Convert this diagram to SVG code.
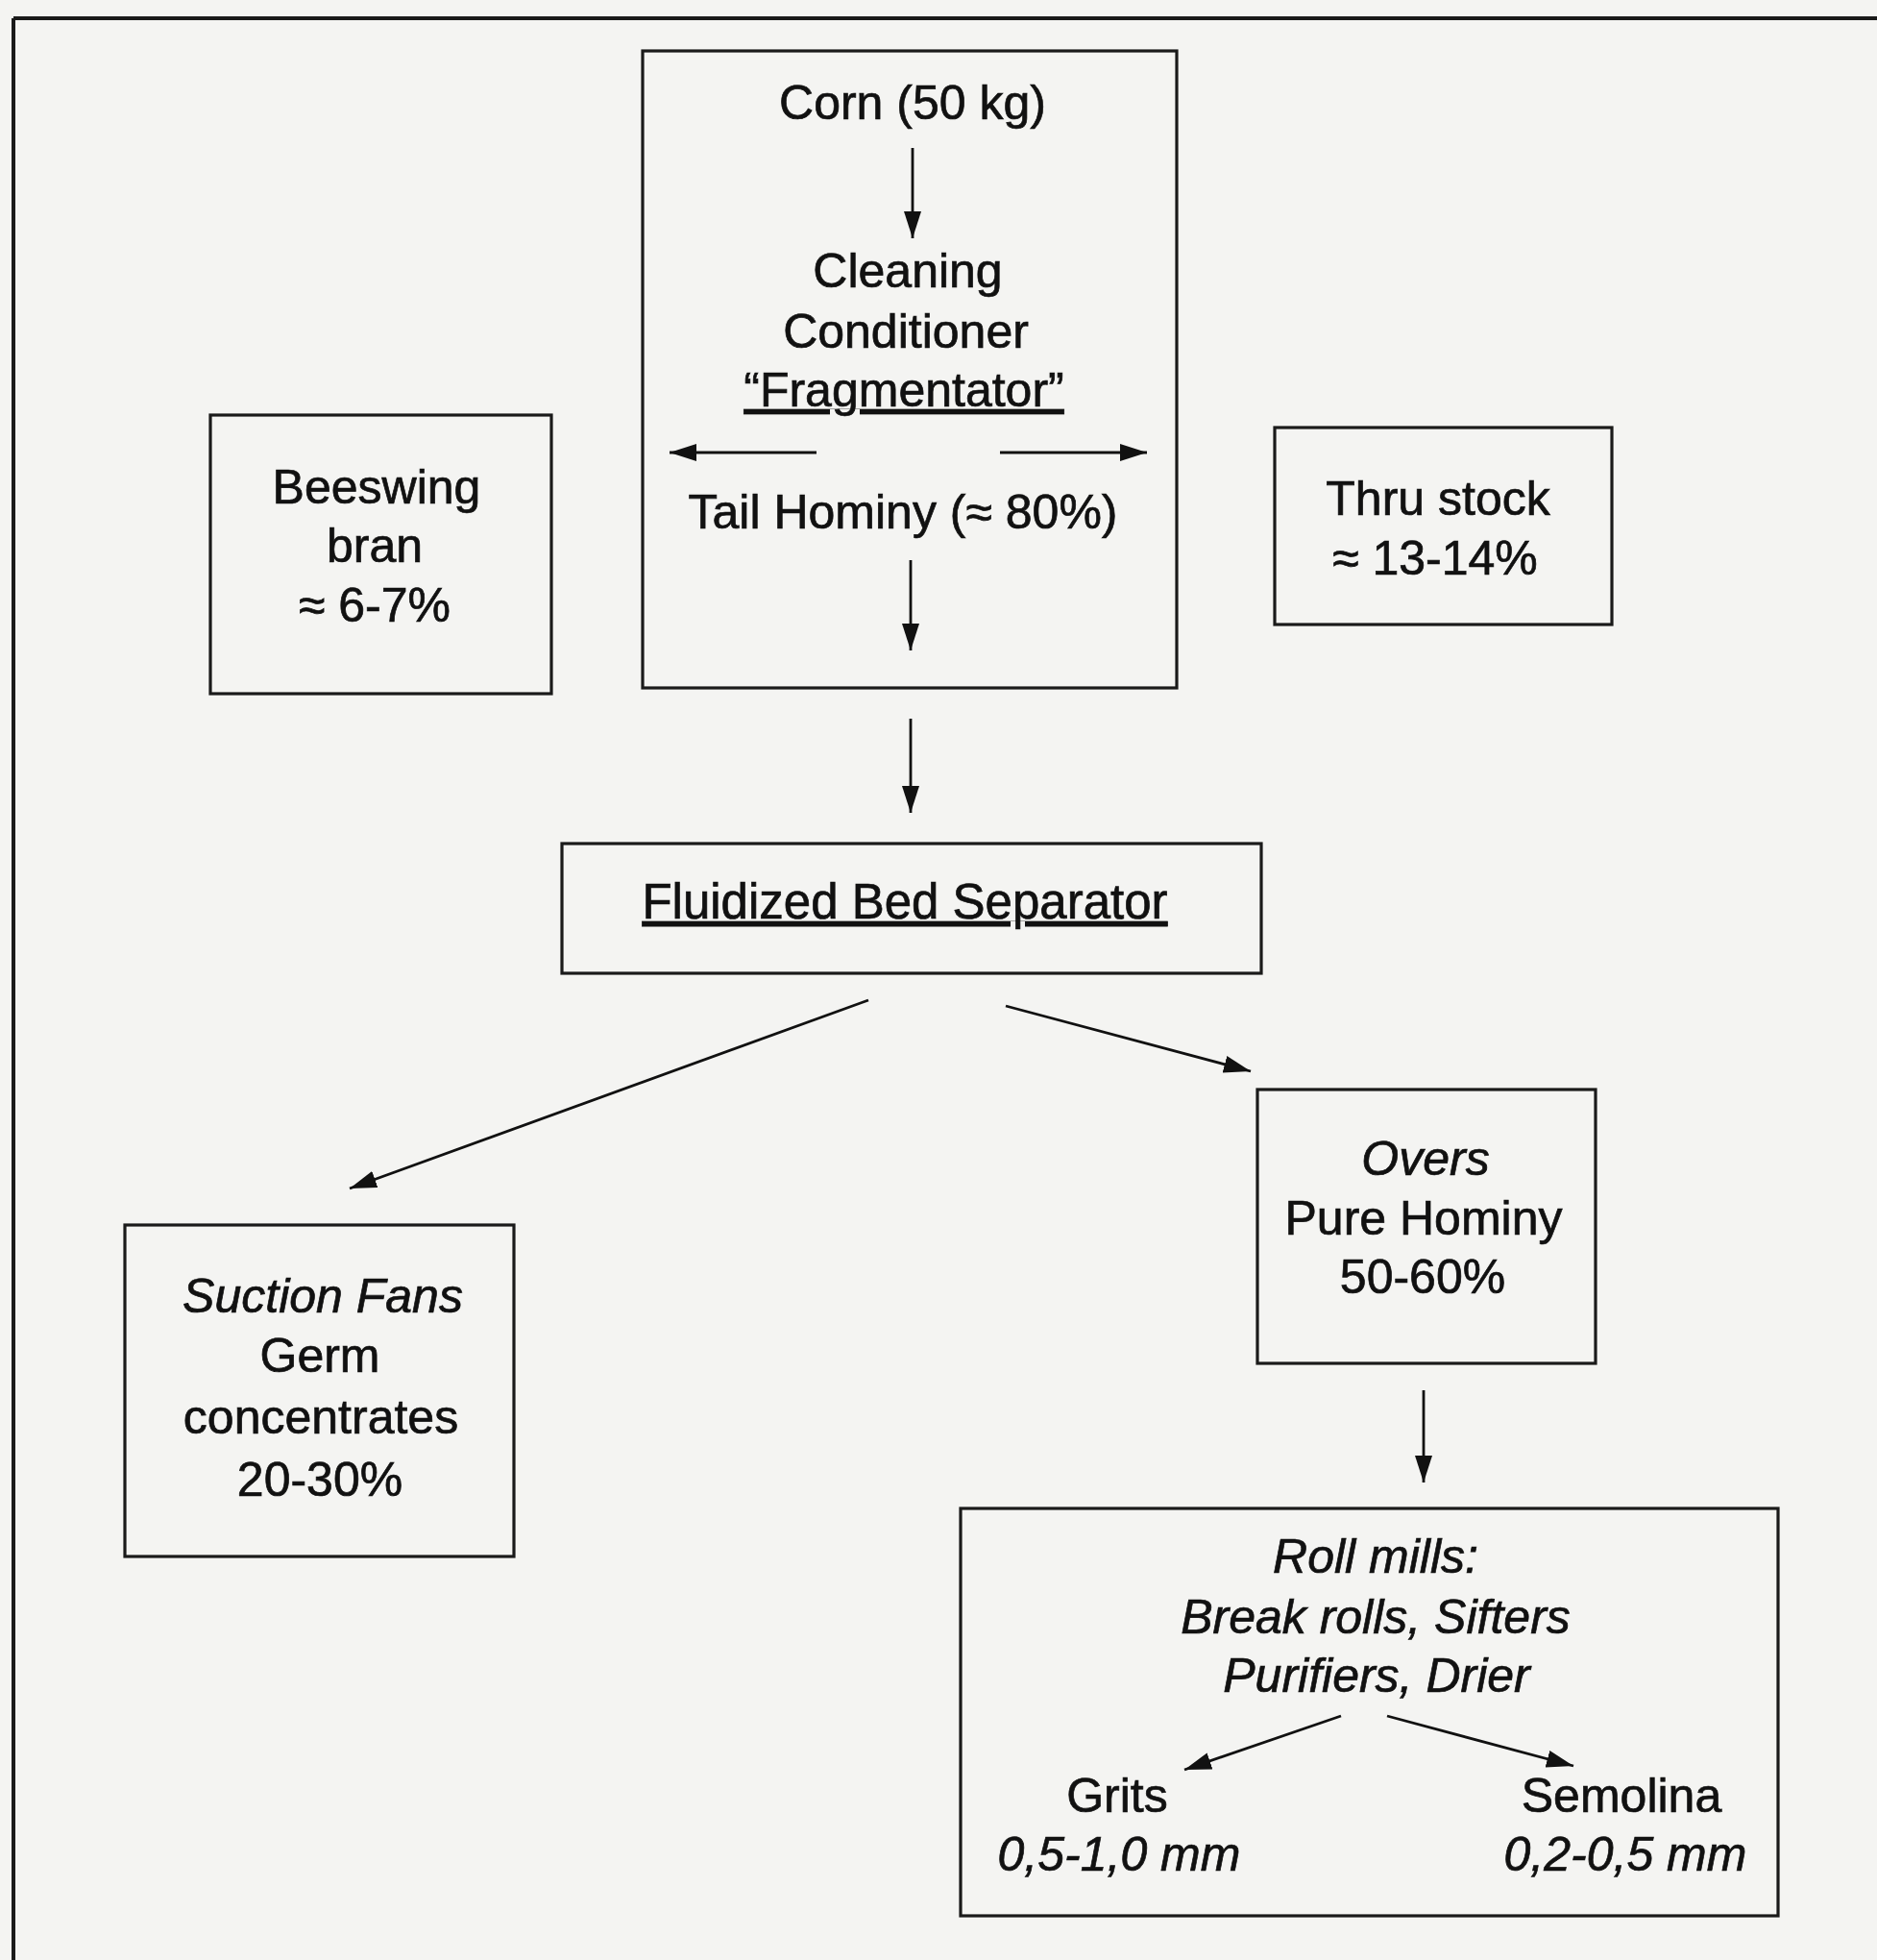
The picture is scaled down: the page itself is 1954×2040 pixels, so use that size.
<svg xmlns="http://www.w3.org/2000/svg" width="1954" height="2040" viewBox="0 0 1954 2040">
<style>
.bg{fill:#f4f4f2}
.box{fill:none;stroke:#1a1a1a;stroke-width:3.2}
.frame{fill:none;stroke:#1a1a1a;stroke-width:4}
text{font-family:"Liberation Sans",Arial,sans-serif;font-size:50px;fill:#111;stroke:#111;stroke-width:0.7;text-anchor:middle}
.it{font-style:italic}
.ul{text-decoration:underline}
.c{stroke:#111;stroke-width:2.8;fill:none;marker-end:url(#ah)}
</style>
<defs>
<marker id="ah" markerUnits="userSpaceOnUse" markerWidth="30" markerHeight="20" refX="28" refY="9" orient="auto">
<path d="M0,0 L28,9 L0,18 Z" fill="#111"/>
</marker>
</defs>
<rect class="bg" x="0" y="0" width="1954" height="2040"/>
<g id="frame">
<line class="frame" x1="14" y1="19" x2="1954" y2="19"/>
<line class="frame" x1="14" y1="19" x2="14" y2="2040"/>
</g>
<g id="main">
<rect class="box" x="669" y="53" width="556" height="663"/>
<text x="950" y="124">Corn (50 kg)</text>
<text x="945" y="299">Cleaning</text>
<text x="943" y="362">Conditioner</text>
<text x="941" y="423" class="ul">“Fragmentator”</text>
<text x="940" y="550">Tail Hominy (≈ 80%)</text>
</g>
<g id="beeswing">
<rect class="box" x="219" y="432" width="355" height="290"/>
<text x="392" y="524">Beeswing</text>
<text x="390" y="585">bran</text>
<text x="390" y="647">≈ 6-7%</text>
</g>
<g id="thru">
<rect class="box" x="1327" y="445" width="351" height="205"/>
<text x="1497" y="536">Thru stock</text>
<text x="1494" y="598">≈ 13-14%</text>
</g>
<g id="fluidized">
<rect class="box" x="585" y="878" width="728" height="135"/>
<text x="942" y="956" class="ul" style="font-size:51px">Fluidized Bed Separator</text>
</g>
<g id="suction">
<rect class="box" x="130" y="1275" width="405" height="345"/>
<text x="336" y="1366" class="it">Suction Fans</text>
<text x="333" y="1428">Germ</text>
<text x="334" y="1492">concentrates</text>
<text x="333" y="1557">20-30%</text>
</g>
<g id="overs">
<rect class="box" x="1309" y="1134" width="352" height="285"/>
<text x="1484" y="1223" class="it">Overs</text>
<text x="1482" y="1285">Pure Hominy</text>
<text x="1481" y="1346">50-60%</text>
</g>
<g id="rollmills">
<rect class="box" x="1000" y="1570" width="851" height="424"/>
<text x="1432" y="1637" class="it">Roll mills:</text>
<text x="1432" y="1700" class="it">Break rolls, Sifters</text>
<text x="1433" y="1761" class="it">Purifiers, Drier</text>
<text x="1163" y="1886">Grits</text>
<text x="1165" y="1947" class="it">0,5-1,0 mm</text>
<text x="1688" y="1886">Semolina</text>
<text x="1692" y="1947" class="it">0,2-0,5 mm</text>
</g>
<g id="connectors">
<line class="c" x1="950" y1="154" x2="950" y2="248"/>
<line class="c" x1="850" y1="471" x2="697" y2="471"/>
<line class="c" x1="1041" y1="471" x2="1194" y2="471"/>
<line class="c" x1="948" y1="583" x2="948" y2="677"/>
<line class="c" x1="948" y1="748" x2="948" y2="846"/>
<line class="c" x1="904" y1="1041" x2="364" y2="1237"/>
<line class="c" x1="1047" y1="1047" x2="1302" y2="1115"/>
<line class="c" x1="1482" y1="1447" x2="1482" y2="1543"/>
<line class="c" x1="1396" y1="1786" x2="1233" y2="1842"/>
<line class="c" x1="1444" y1="1786" x2="1638" y2="1838"/>
</g>
</svg>
